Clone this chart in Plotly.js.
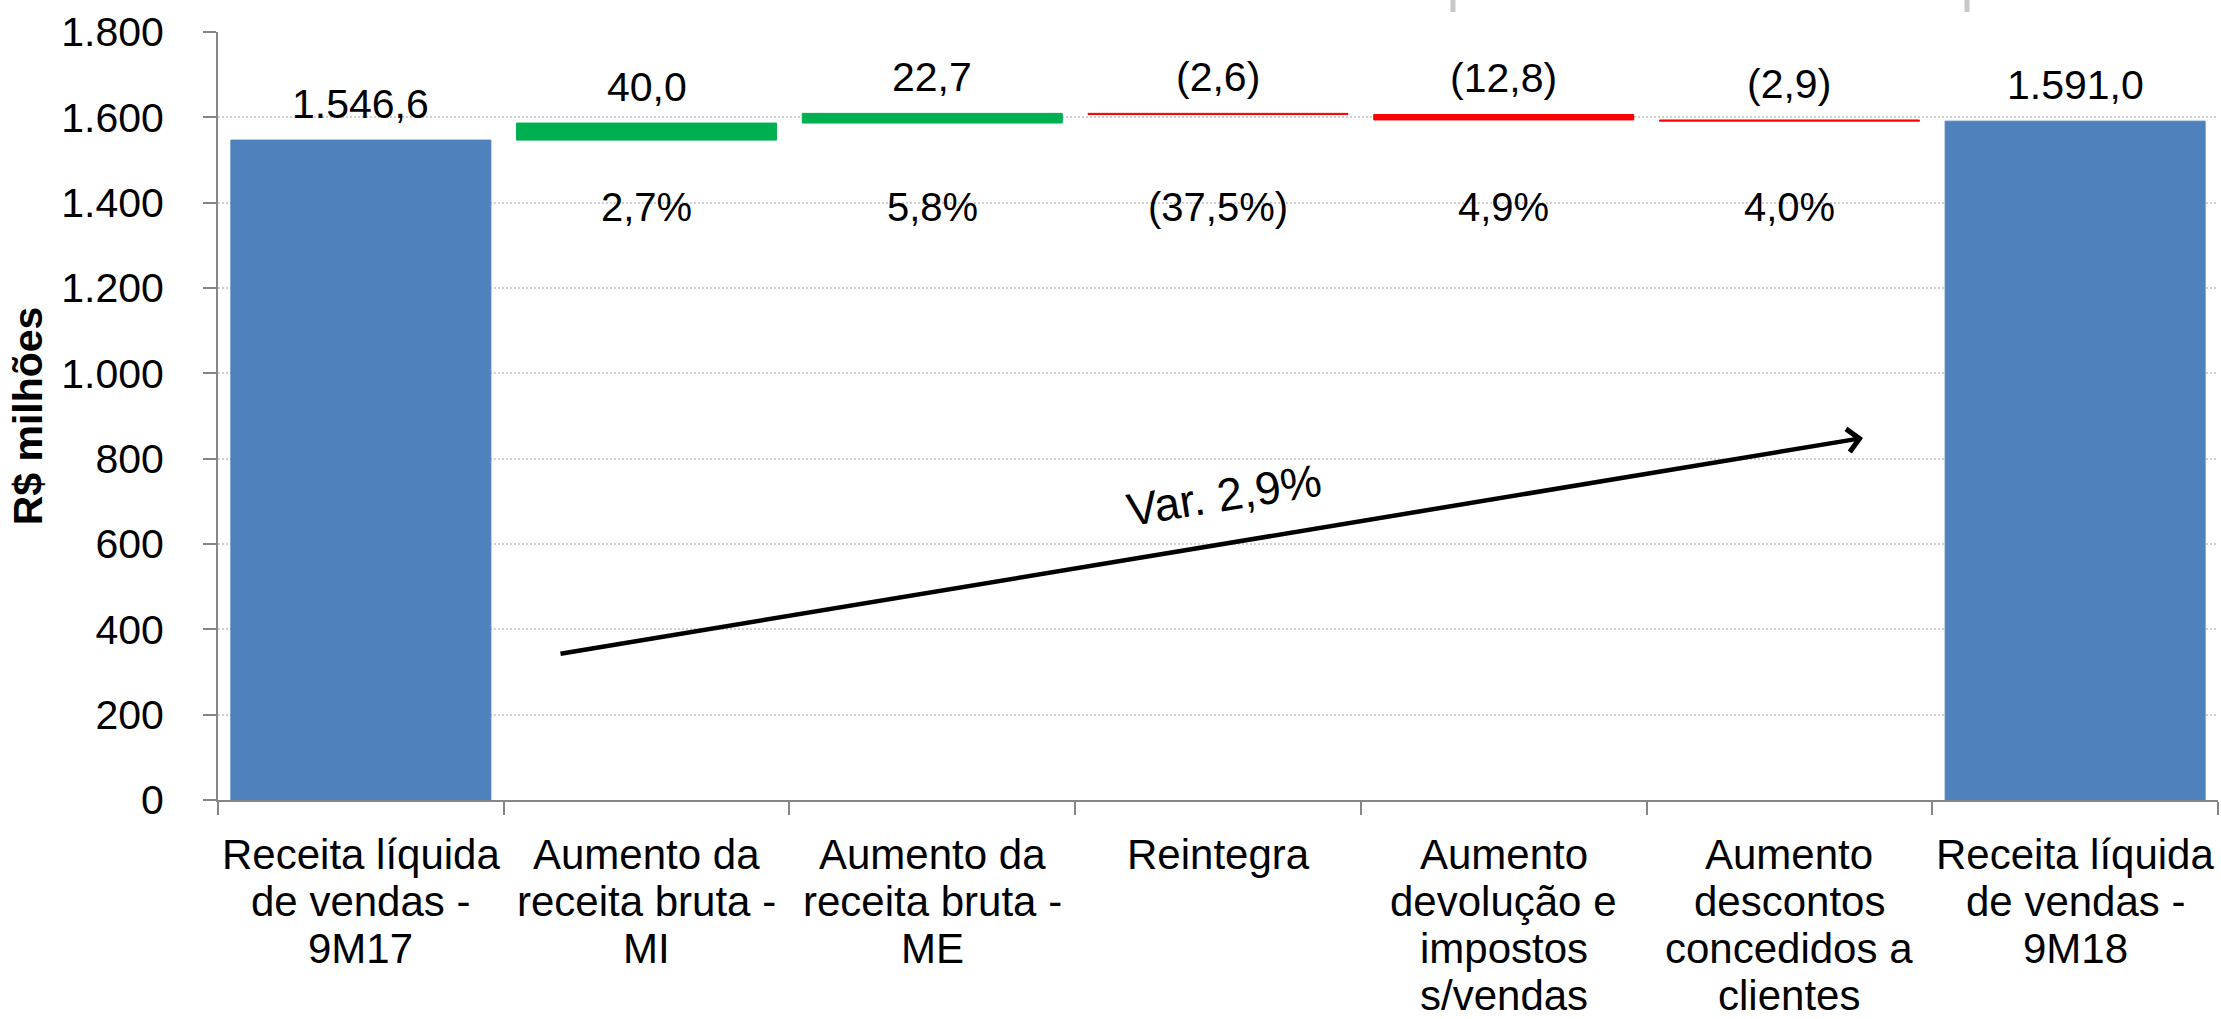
<!DOCTYPE html>
<html>
<head>
<meta charset="utf-8">
<script src="https://cdn.plot.ly/plotly-3.0.1.min.js"></script>
<style>
  html, body { margin: 0; padding: 0; background: #ffffff; }
  #chart { width: 2221px; height: 1019px; }
</style>
</head>
<body>
<div id="chart"></div>
<script>
// ---- data ----
const categories = [
  "Receita líquida<br>de vendas -<br>9M17",
  "Aumento da<br>receita bruta -<br>MI",
  "Aumento da<br>receita bruta -<br>ME",
  "Reintegra",
  "Aumento<br>devolução e<br>impostos<br>s/vendas",
  "Aumento<br>descontos<br>concedidos a<br>clientes",
  "Receita líquida<br>de vendas -<br>9M18"
];
const values = [1546.6, 40.0, 22.7, -2.6, -12.8, -2.9, 1591.0];
const kinds = ["total", "delta", "delta", "delta", "delta", "delta", "total"];
const valueLabels = ["1.546,6", "40,0", "22,7", "(2,6)", "(12,8)", "(2,9)", "1.591,0"];
const pctLabels = ["", "2,7%", "5,8%", "(37,5%)", "4,9%", "4,0%", ""];
const arrowLabel = "Var. 2,9%";
const yTitle = "R$ milhões";

// ---- styles ----
const FONT = "'Liberation Sans', Arial, sans-serif";
const C_TOTAL = "#4F81BD", C_UP = "#00B050", C_DOWN = "#FF0000";
const AXIS_COLOR = "#868686";
const CAT_FIRST_LINE = 54;   // px below axis to centre of first label line
const CAT_LINE_STEP = 47;    // px between label lines

// ---- waterfall geometry from data ----
let running = 0;
const bases = [], heights = [], colors = [], tops = [];
values.forEach((v, i) => {
  if (kinds[i] === "total") {
    bases.push(0); heights.push(v); colors.push(C_TOTAL); tops.push(v);
    running = v;
  } else {
    const start = running, end = running + v;
    bases.push(Math.min(start, end));
    heights.push(Math.abs(v));
    colors.push(v >= 0 ? C_UP : C_DOWN);
    tops.push(Math.max(start, end));
    running = end;
  }
});

const barTrace = {
  type: "bar",
  x: categories,
  y: heights,
  base: bases,
  marker: { color: colors, line: { color: colors, width: 1 } },
  hoverinfo: "skip",
  showlegend: false
};

const PCT_LEVEL = 1390;
const annotations = [];
categories.forEach((c, i) => {
  annotations.push({
    x: c, y: tops[i], xref: "x", yref: "y",
    text: valueLabels[i], showarrow: false,
    yanchor: "bottom", yshift: 11,
    font: { family: FONT, size: 41, color: "#000" }
  });
  if (pctLabels[i]) {
    annotations.push({
      x: c, y: PCT_LEVEL, xref: "x", yref: "y",
      text: pctLabels[i], showarrow: false,
      yanchor: "middle",
      font: { family: FONT, size: 40, color: "#000" }
    });
  }
  // category labels, one line per annotation (tighter line spacing than Plotly's default)
  c.split("<br>").forEach((line, k) => {
    annotations.push({
      x: c, y: 0, xref: "x", yref: "paper",
      text: line, showarrow: false,
      yanchor: "middle", yshift: -(CAT_FIRST_LINE + k * CAT_LINE_STEP),
      font: { family: FONT, size: 42, color: "#000" }
    });
  });
});

// arrow
annotations.push({
  xref: "paper", yref: "paper",
  x: 0.8225, y: 0.4714,
  ax: -1304, ay: 216,
  text: "", showarrow: true,
  arrowhead: 4, arrowsize: 1, arrowwidth: 4.5, arrowcolor: "#000",
  standoff: 0, startstandoff: 0
});
annotations.push({
  xref: "paper", yref: "paper",
  x: 0.503, y: 0.397,
  text: arrowLabel, showarrow: false, textangle: -9,
  font: { family: FONT, size: 46, color: "#000" }
});

const shapes = [
  { type: "line", xref: "paper", yref: "paper", x0: 0.6175, x1: 0.6175, y0: 1.0417, y1: 1.026,
    line: { color: "#C8C8C8", width: 5 } },
  { type: "line", xref: "paper", yref: "paper", x0: 0.8745, x1: 0.8745, y0: 1.0417, y1: 1.026,
    line: { color: "#C8C8C8", width: 5 } }
];

const layout = {
  width: 2221, height: 1019,
  margin: { l: 218, r: 3, t: 32, b: 219, pad: 0 },
  paper_bgcolor: "#ffffff", plot_bgcolor: "#ffffff",
  separators: ",.",
  bargap: 0.09,
  font: { family: FONT, size: 40, color: "#000" },
  xaxis: {
    type: "category",
    range: [-0.5, 6.5],
    tickson: "boundaries",
    tickangle: 0,
    showticklabels: false,
    ticks: "outside", ticklen: 13, tickwidth: 2, tickcolor: AXIS_COLOR,
    showline: true, linecolor: AXIS_COLOR, linewidth: 2,
    showgrid: false, zeroline: false,
    automargin: false, fixedrange: true
  },
  yaxis: {
    range: [0, 1800], dtick: 200, tick0: 0,
    tickformat: ",d",
    ticks: "outside", ticklen: 13, tickwidth: 2, tickcolor: AXIS_COLOR,
    showline: true, linecolor: AXIS_COLOR, linewidth: 2,
    showgrid: true, gridcolor: "#D0D0D0", gridwidth: 2, griddash: "2px,2px",
    zeroline: false,
    ticklabelstandoff: 31,
    tickfont: { family: FONT, size: 41, color: "#000" },
    title: { text: "<b>" + yTitle + "</b>", font: { family: FONT, size: 41, color: "#000" }, standoff: 6 },
    automargin: false, fixedrange: true
  },
  annotations: annotations,
  shapes: shapes
};

Plotly.newPlot("chart", [barTrace], layout, { staticPlot: true, displayModeBar: false });
</script>
</body>
</html>
